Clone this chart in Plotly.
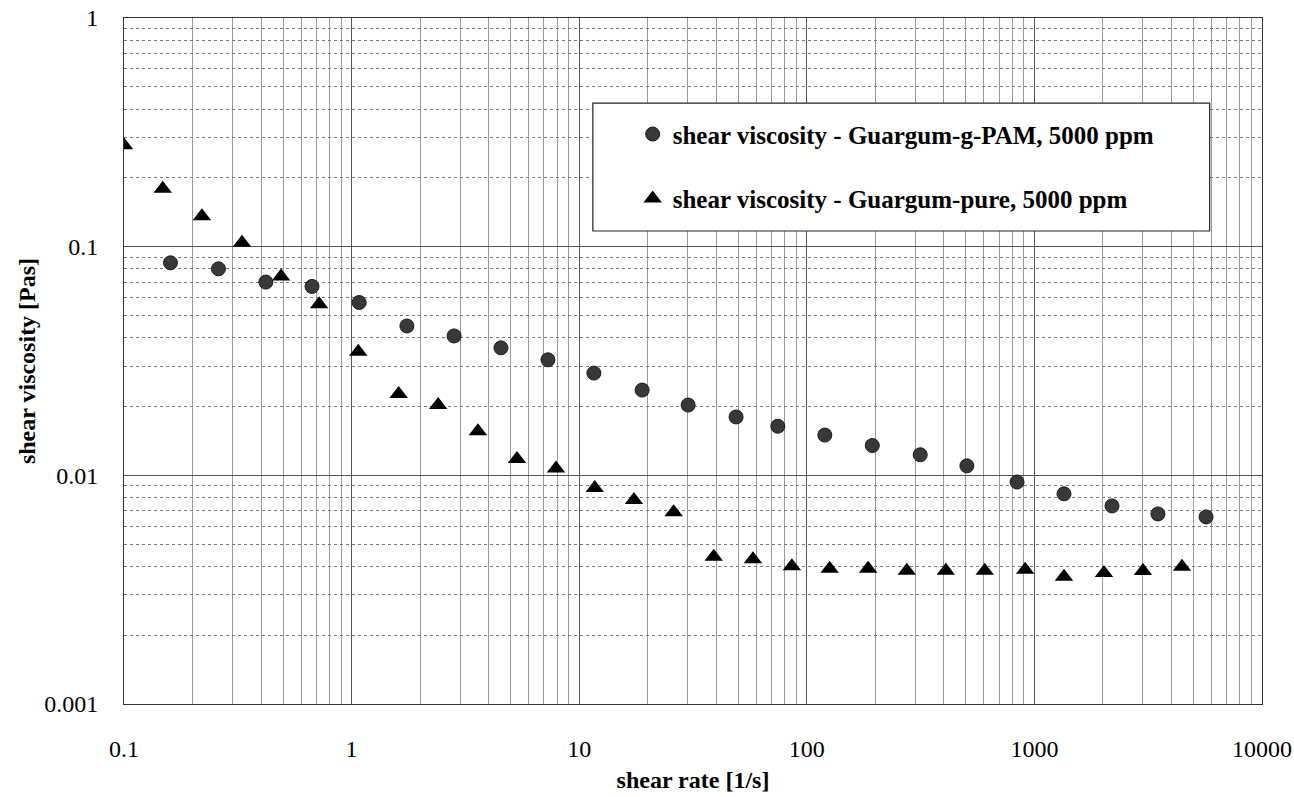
import plotly.graph_objects as go

# Guargum-g-PAM, 5000 ppm (circles)
gpam_rate = [0.16, 0.26, 0.42, 0.67, 1.08, 1.75, 2.82, 4.53, 7.29, 11.6, 18.9, 30.1, 48.9,
             74.6, 120, 194, 315, 505, 839, 1349, 2193, 3490, 5680]
gpam_visc = [0.085, 0.080, 0.070, 0.067, 0.057, 0.045, 0.0407, 0.0361, 0.0320, 0.0280, 0.0236,
             0.0203, 0.0180, 0.0164, 0.0150, 0.0135, 0.0123, 0.0110, 0.00935, 0.0083, 0.00735,
             0.00678, 0.00658]

# Guargum-pure, 5000 ppm (triangles)
pure_rate = [0.1, 0.148, 0.22, 0.33, 0.49, 0.72, 1.07, 1.61, 2.40, 3.59, 5.33, 7.91, 11.7, 17.4,
             26, 39, 58, 86, 126, 186, 275, 408, 605, 910, 1349, 2022, 3000, 4450]
pure_visc = [0.278, 0.179, 0.136, 0.104, 0.074, 0.056, 0.0347, 0.0227, 0.0203, 0.0156, 0.0118,
             0.0107, 0.0088, 0.0078, 0.0069, 0.0044, 0.0043, 0.0040, 0.0039, 0.0039, 0.00383,
             0.00383, 0.00383, 0.00386, 0.0036, 0.00374, 0.00382, 0.00398]

x_ticks = [0.1, 1, 10, 100, 1000, 10000]
x_ticktext = ["0.1", "1", "10", "100", "1000", "10000"]
y_ticks = [0.001, 0.01, 0.1, 1]
y_ticktext = ["0.001", "0.01", "0.1", "1"]

x_minor = [m * 10.0 ** e for e in range(-1, 4) for m in range(2, 10)]
y_minor = [m * 10.0 ** e for e in range(-3, 0) for m in range(2, 10)]

FONT = "Liberation Serif, Times New Roman, serif"

fig = go.Figure()
fig.add_trace(go.Scatter(
    x=gpam_rate, y=gpam_visc, mode="markers",
    name="shear viscosity - Guargum-g-PAM, 5000 ppm",
    legendgroup="a",
    marker=dict(symbol="circle", size=14, color="#383838",
                line=dict(color="#1a1a1a", width=1)),
))
fig.add_trace(go.Scatter(
    x=pure_rate, y=pure_visc, mode="markers",
    name="shear viscosity - Guargum-pure, 5000 ppm",
    legendgroup="b",
    marker=dict(symbol="triangle-up", size=16, color="black"),
))

# legend frame (white box hiding grid, drawn under the legend text)
fig.add_shape(type="rect", xref="x domain", yref="y domain",
              x0=0.412, x1=0.954, y0=0.6895, y1=0.876,
              fillcolor="white", line=dict(color="#222", width=1.2), layer="above")

fig.update_layout(
    width=1294, height=797,
    margin=dict(l=124, r=32, t=18, b=93),
    paper_bgcolor="white", plot_bgcolor="white",
    font=dict(family=FONT, size=24, color="black"),
    showlegend=True,
    legend=dict(
        x=0.447, y=0.864, xanchor="left", yanchor="top",
        bgcolor="rgba(0,0,0,0)", borderwidth=0,
        font=dict(family=FONT, size=25, color="black", weight="bold"),
        tracegroupgap=29, traceorder="grouped",
    ),
    xaxis=dict(
        type="log", range=[-1, 4], automargin=False,
        tickvals=x_ticks, ticktext=x_ticktext,
        showgrid=True, gridcolor="#555", gridwidth=1,
        minor=dict(tickvals=x_minor, showgrid=True, gridcolor="#999", gridwidth=1),
        showline=True, linecolor="#333", linewidth=1, mirror=True,
        ticks="", ticklabelstandoff=23,
        tickfont=dict(family=FONT, size=24),
        title=dict(text="shear rate [1/s]", standoff=10,
                   font=dict(family=FONT, size=24, weight="bold")),
        zeroline=False,
    ),
    yaxis=dict(
        type="log", range=[-3, 0], automargin=False,
        tickvals=y_ticks, ticktext=y_ticktext,
        showgrid=True, gridcolor="#555", gridwidth=1,
        minor=dict(tickvals=y_minor, showgrid=True, gridcolor="#777", gridwidth=1, griddash="dot"),
        showline=True, linecolor="#333", linewidth=1, mirror=True,
        ticks="", ticklabelstandoff=20,
        tickfont=dict(family=FONT, size=24),
        title=dict(text="shear viscosity [Pas]", standoff=1,
                   font=dict(family=FONT, size=24, weight="bold")),
        zeroline=False,
    ),
)

fig.write_html("out.html")
